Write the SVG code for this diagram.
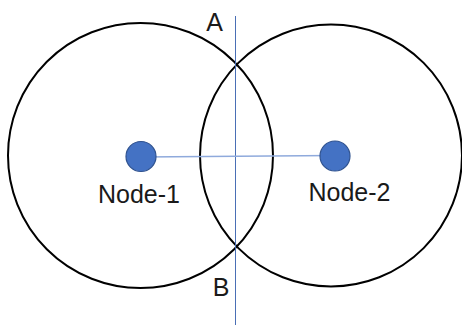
<svg xmlns="http://www.w3.org/2000/svg" width="462" height="325" viewBox="0 0 462 325">
<style>
.big{fill:none;stroke:#000;stroke-width:2}
.node{fill:#4472C4;stroke:#2F528F;stroke-width:1.2}
.lbl{font-family:"Liberation Sans",Arial,sans-serif;font-size:25px;fill:#1a1a1a}
</style>
<rect width="462" height="325" fill="#fff"/>
<g id="range-1"><circle class="big" cx="140.5" cy="155.5" r="132.5"/></g>
<g id="range-2"><circle class="big" cx="331" cy="155.5" r="131"/></g>
<g id="connectors">
<line x1="235.5" y1="16" x2="235.5" y2="325" stroke="#4A6FB5" stroke-width="1"/>
<line x1="141" y1="157" x2="335" y2="155.5" stroke="#8FAADC" stroke-width="1.5"/>
</g>
<g id="node-1"><circle class="node" cx="141" cy="156.5" r="15"/><text class="lbl" x="139" y="203" text-anchor="middle">Node-1</text></g>
<g id="node-2"><circle class="node" cx="335" cy="156" r="15"/><text class="lbl" x="349.5" y="201" text-anchor="middle">Node-2</text></g>
<g id="A"><text class="lbl" x="214.5" y="31" text-anchor="middle">A</text></g>
<g id="B"><text class="lbl" x="221" y="296" text-anchor="middle">B</text></g>
</svg>
